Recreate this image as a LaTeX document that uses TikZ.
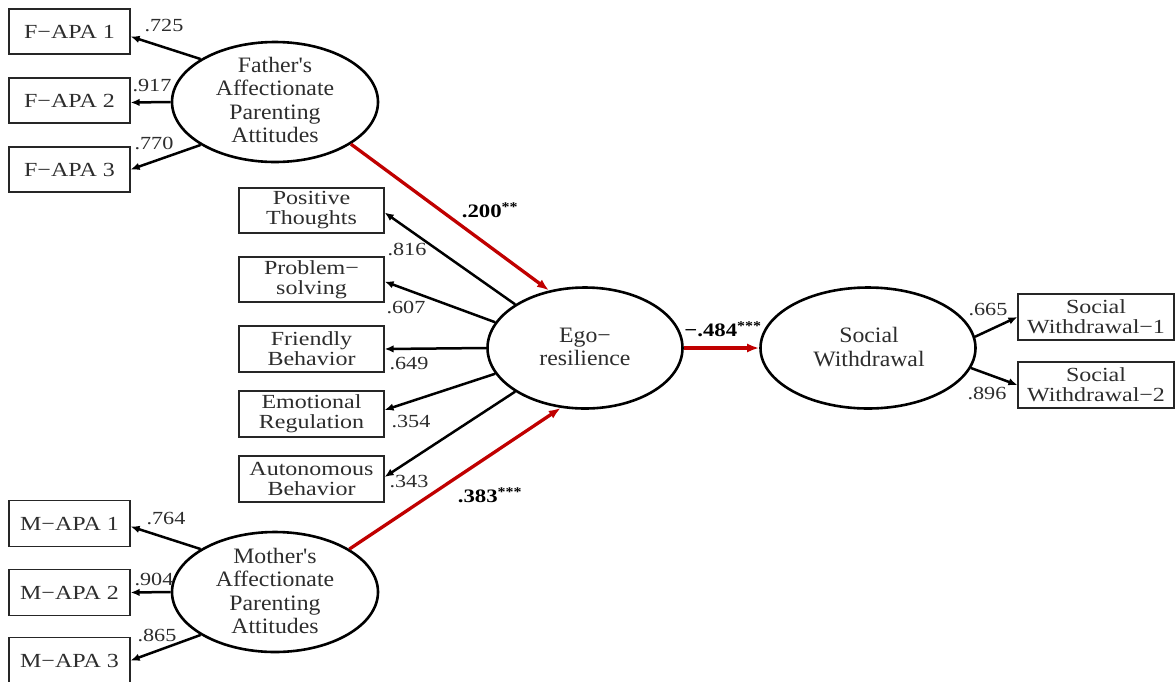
\documentclass[tikz,border=0pt]{standalone}
\usepackage{fontspec}
\setmainfont{Liberation Serif}
\newfontfamily\boxfont[FakeStretch=1.2]{Liberation Serif}
\newfontfamily\ellfont[FakeStretch=1.08]{Liberation Serif}
\usetikzlibrary{arrows.meta,shapes.geometric}
\definecolor{pathred}{RGB}{192,0,0}
\definecolor{txt}{RGB}{45,45,45}
\begin{document}
\begin{tikzpicture}[x=1pt,y=-1pt,
  obs/.style={draw=black!85, line width=1.2pt, rectangle, inner sep=0pt, align=center, text=txt,
    font=\boxfont\fontsize{20}{20}\selectfont},
  lat/.style={draw=black, line width=2.6pt, ellipse, inner sep=0pt, fill=white},
  lattext/.style={align=center, text=txt, inner sep=0pt, font=\ellfont\fontsize{22}{23.5}\selectfont},
  load/.style={-{Latex[length=9pt,width=7.5pt]}, line width=2.5pt, black},
  structpath/.style={-{Latex[length=12pt,width=9pt]}, line width=3.3pt, pathred},
  coef/.style={text=txt, inner sep=0pt, font=\boxfont\fontsize{18.5}{18.5}\selectfont},
  bcoef/.style={text=black, inner sep=0pt, font=\boxfont\bfseries\fontsize{19}{19}\selectfont},
]
\useasboundingbox (0,0) rectangle (1175,681);
\clip (0,0) rectangle (1175,681);

% observed indicators (left)
\node[obs, minimum width=121pt, minimum height=45pt] (fapa1) at (69.5,31.5) {F−APA 1};
\node[obs, minimum width=121pt, minimum height=45pt] (fapa2) at (69.5,100.5) {F−APA 2};
\node[obs, minimum width=121pt, minimum height=45pt] (fapa3) at (69.5,169.5) {F−APA 3};
\node[obs, minimum width=121pt, minimum height=46pt] (mapa1) at (69.5,523.5) {M−APA 1};
\node[obs, minimum width=121pt, minimum height=46pt] (mapa2) at (69.5,592.5) {M−APA 2};
\node[obs, minimum width=121pt, minimum height=46pt] (mapa3) at (69.5,660.5) {M−APA 3};

% ego-resilience indicators
\node[obs, minimum width=145pt, minimum height=45pt] (pt) at (311.5,210.5) {Positive\\Thoughts};
\node[obs, minimum width=145pt, minimum height=45pt] (ps) at (311.5,279.5) {Problem−\\solving};
\node[obs, minimum width=145pt, minimum height=46pt] (fb) at (311.5,349) {Friendly\\Behavior};
\node[obs, minimum width=145pt, minimum height=46pt] (er) at (311.5,414) {Emotional\\Regulation};
\node[obs, minimum width=145pt, minimum height=46pt] (ab) at (311.5,479) {Autonomous\\Behavior};

% social withdrawal indicators
\node[obs, minimum width=156pt, minimum height=46pt] (sw1) at (1096,317) {Social\\Withdrawal−1};
\node[obs, minimum width=156pt, minimum height=46pt] (sw2) at (1096,385) {Social\\Withdrawal−2};

% latent variables
\node[lat, minimum width=206pt, minimum height=120pt] (father) at (275,102) {};
\node[lattext] (fathertxt) at (275,100) {Father's\\Affectionate\\Parenting\\Attitudes};
\node[lat, minimum width=206pt, minimum height=120pt] (mother) at (275,592) {};
\node[lattext] (mothertxt) at (275,591) {Mother's\\Affectionate\\Parenting\\Attitudes};
\node[lat, minimum width=195pt, minimum height=121pt] (ego) at (585,348) {};
\node[lattext] (egotxt) at (585,347) {Ego−\\resilience};
\node[lat, minimum width=215pt, minimum height=121pt] (sw) at (868,348) {};
\node[lattext] (swtxt) at (869,347) {Social\\Withdrawal};

% loadings
\draw[load] (father.150) -- ([yshift=-5pt]fapa1.east);
\draw[load] (father.180) -- ([yshift=-2pt]fapa2.east);
\draw[load] (father.210) -- (fapa3.east);
\draw[load] (mother.150) -- ([yshift=-3pt]mapa1.east);
\draw[load] (mother.180) -- (mapa2.east);
\draw[load] (mother.210) -- (mapa3.east);
\draw[load] (ego.148) -- ([yshift=-2pt]pt.east);
\draw[load] (ego.164.6) -- ([yshift=-2pt]ps.east);
\draw[load] (ego.180) -- (fb.east);
\draw[load] (ego.196.6) -- ([yshift=4pt]er.east);
\draw[load] (ego.212) -- ([yshift=2pt]ab.east);
\draw[load] (sw.6) -- (sw1.west);
\draw[load] (sw.-11) -- (sw2.west);

% structural paths
\draw[structpath] (father.-29) -- (ego.122);
\draw[structpath] (mother.30) -- (ego.248);
\draw[structpath] (ego.east) -- (sw.west);

% coefficients
\node[coef] (c1) at (164,26) {.725};
\node[coef] (c2) at (152,86) {.917};
\node[coef] (c3) at (154,143) {.770};
\node[coef] (c4) at (166,518) {.764};
\node[coef] (c5) at (154,579) {.904};
\node[coef] (c6) at (157,635) {.865};
\node[coef] (c7) at (407,249) {.816};
\node[coef] (c8) at (406,307) {.607};
\node[coef] (c9) at (409,363) {.649};
\node[coef] (c10) at (411,421) {.354};
\node[coef] (c11) at (409,481) {.343};
\node[coef] (c12) at (988,309) {.665};
\node[coef] (c13) at (987,393) {.896};
\node[bcoef] (b1) at (490,210) {.200\textsuperscript{**}};
\node[bcoef] (b2) at (490,495) {.383\textsuperscript{***}};
\node[bcoef] (b3) at (723,329) {−.484\textsuperscript{***}};
\end{tikzpicture}
\end{document}
